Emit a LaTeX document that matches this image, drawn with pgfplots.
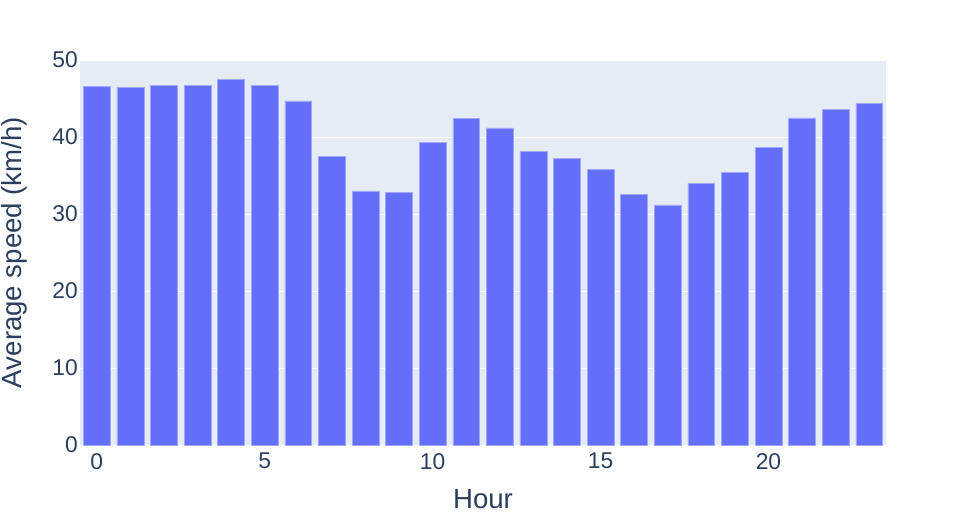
\documentclass[border=0pt]{standalone}
\usepackage{fontspec}
\setmainfont{Liberation Sans}
\usepackage{pgfplots}
\pgfplotsset{compat=1.18}
\definecolor{bgc}{HTML}{E5ECF6}
\definecolor{barc}{HTML}{636EFA}
\definecolor{txt}{HTML}{2A3F5F}
\begin{document}
\begin{tikzpicture}
\useasboundingbox (-80pt,-80pt) rectangle (886pt,445pt);
\begin{axis}[
  scale only axis,
  width=806pt, height=385pt,
  xmin=-0.5, xmax=23.5,
  ymin=0, ymax=50,
  axis background/.style={fill=bgc},
  axis line style={draw=none},
  major tick length=0pt,
  ytick={0,10,20,30,40,50},
  xtick={0,5,10,15,20},
  ymajorgrids,
  grid style={white, line width=1pt},
  /pgf/number format/assume math mode=true,
  tick label style={font=\fontsize{22.8}{27}\selectfont, text=txt, inner sep=0pt},
  yticklabel style={anchor=east, xshift=-2pt},
  xticklabel style={anchor=north, yshift=-8pt},
  xlabel={Hour},
  ylabel={Average speed (km/h)},
  label style={font=\fontsize{27.6}{32}\selectfont, text=txt, inner sep=0pt},
  xlabel style={at={(axis description cs:0.5,-0.1662)}, anchor=base},
  ylabel style={at={(axis description cs:-0.0819,0.5)}, anchor=center},
]
\addplot[ybar, bar width=0.8, fill=barc, draw=barc!60!white, line width=0.5pt] coordinates {
(0,46.58) (1,46.49) (2,46.70) (3,46.69) (4,47.45) (5,46.75) (6,44.70) (7,37.50)
(8,33.00) (9,32.80) (10,39.35) (11,42.40) (12,41.20) (13,38.10) (14,37.20) (15,35.75)
(16,32.55) (17,31.20) (18,34.00) (19,35.40) (20,38.65) (21,42.50) (22,43.55) (23,44.40)
};
\end{axis}
\end{tikzpicture}
\end{document}
